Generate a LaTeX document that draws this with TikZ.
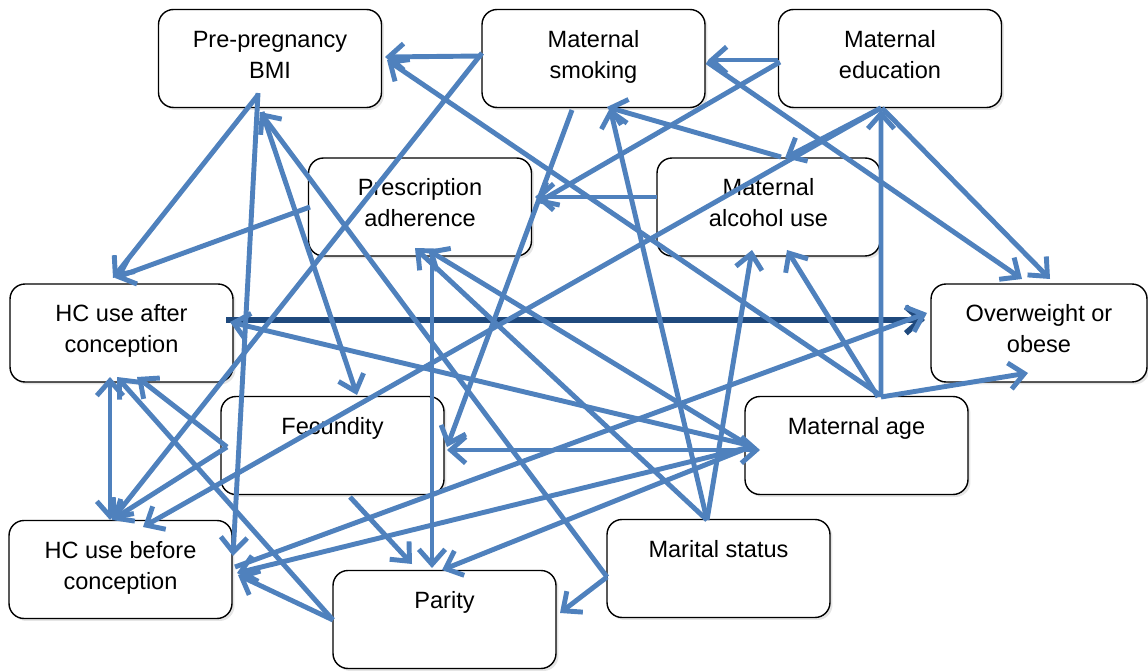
\documentclass[tikz,border=0pt]{standalone}
\usepackage{fontspec}
\setmainfont{Liberation Sans}
\usetikzlibrary{arrows.meta,calc,shadows}
\definecolor{arrowblue}{RGB}{79,129,189}
\definecolor{mainblue}{RGB}{31,73,125}
\newcommand{\boxtext}[2][4.46cm]{\parbox[c][1.96cm][t]{#1}{\centering\rule{0pt}{0.76cm}#2}}

\begin{document}
\begin{tikzpicture}[x=0.02cm, y=-0.02cm,
  box/.style={draw, rounded corners=0.3cm, fill=white, line width=0.8pt, inner sep=0pt,
    font=\fontsize{13.4}{17.5}\selectfont,
    drop shadow={shadow xshift=0.05cm, shadow yshift=-0.05cm, fill=black!20}},
  arrow/.style={draw=arrowblue, line width=2.8pt, -{Straight Barb[length=8.5pt,width=15pt]}},
  both/.style={arrow, {Straight Barb[length=8.5pt,width=15pt]}-{Straight Barb[length=8.5pt,width=15pt]}},
  main/.style={arrow, draw=mainblue, line width=3.2pt}
]
  \useasboundingbox (0,0) rectangle (1148,671);

  % Boxes
  \node[box] (bmi)   at (270,58.5)    {\boxtext{Pre-pregnancy\\BMI}};
  \node[box] (smok)  at (593.5,58.5)  {\boxtext{Maternal\\smoking}};
  \node[box] (edu)   at (890,58.5)    {\boxtext{Maternal\\education}};
  \node[box] (presc) at (420,207)     {\boxtext{Prescription\\adherence}};
  \node[box] (alc)   at (768.5,207)   {\boxtext{Maternal\\alcohol use}};
  \node[box] (hca)   at (121.5,333)   {\boxtext{HC use after\\conception}};
  \node[box] (over)  at (1039,333)    {\boxtext[4.32cm]{Overweight or\\obese}};
  \node[box] (fec)   at (332.5,445.5) {\boxtext{Fecundity}};
  \node[box] (age)   at (856.5,445.5) {\boxtext{Maternal age}};
  \node[box] (hcb)   at (120.5,569.5) {\boxtext{HC use before\\conception}};
  \node[box] (mar)   at (718.5,568.5) {\boxtext{Marital status}};
  \node[box] (par)   at (444.5,619.5) {\boxtext{Parity}};

  % Exposure to outcome
  \draw[main] ($(hca)+(104.5,-13)$) -- ($(over)+(-114,-13)$);

  % From maternal education
  \draw[arrow] ($(edu)+(-112,1.5)$) -- ($(smok)+(114.5,1.5)$);
  \draw[arrow] ($(edu)+(-110,3.5)$) -- ($(presc)+(117,-4)$);
  \draw[arrow] ($(edu)+(-8,49.5)$) -- ($(over)+(11,-54)$);
  \draw[arrow] ($(edu)+(-9,49.5)$) -- ($(alc)+(16.5,-49)$);
  \draw[arrow] ($(edu)+(-9,49.5)$) -- ($(hcb)+(22.5,-42.5)$);

  % From maternal smoking
  \draw[arrow] ($(smok)+(-111.5,-2.5)$) -- ($(bmi)+(115,-1.5)$);
  \draw[arrow] ($(smok)+(-111.5,-5.5)$) -- ($(hcb)+(-8.5,-49.5)$);
  \draw[arrow] ($(smok)+(-21.5,51.5)$) -- ($(fec)+(114.5,1.5)$);
  \draw[arrow] ($(smok)+(113.5,3.5)$) -- ($(over)+(-17,-54)$);

  % From maternal alcohol use
  \draw[arrow] ($(alc)+(-111.5,-10)$) -- ($(presc)+(115,-10)$);
  \draw[arrow] ($(alc)+(12.5,-50)$) -- ($(smok)+(13.5,48.5)$);

  % From maternal age
  \draw[arrow] ($(age)+(23.5,-50.5)$) -- ($(bmi)+(117,1.5)$);
  \draw[arrow] ($(age)+(24.5,-48.5)$) -- ($(edu)+(-9,51.5)$);
  \draw[arrow] ($(age)+(21.5,-48.5)$) -- ($(alc)+(18.5,43)$);
  \draw[arrow] ($(age)+(24.5,-48.5)$) -- ($(over)+(-11,40)$);
  \draw[both]  ($(age)+(-96.5,4.5)$) -- ($(fec)+(114.5,4.5)$);
  \draw[arrow] ($(age)+(-108.5,-0.5)$) -- ($(hca)+(108.5,-11)$);
  \draw[arrow] ($(age)+(-108.5,-0.5)$) -- ($(presc)+(8,43)$);
  \draw[arrow] ($(age)+(-106.5,1.5)$) -- ($(par)+(-2.5,-49.5)$);
  \draw[arrow] ($(age)+(-106.5,1.5)$) -- ($(hcb)+(116.5,3.5)$);

  % From marital status
  \draw[arrow] ($(mar)+(-11.5,-48.5)$) -- ($(smok)+(16.5,49.5)$);
  \draw[arrow] ($(mar)+(-11.5,-48.5)$) -- ($(alc)+(-16.5,43)$);
  \draw[arrow] ($(mar)+(-11.5,-48.5)$) -- ($(presc)+(-5,41)$);
  \draw[arrow] ($(mar)+(-111.5,8.5)$) -- ($(bmi)+(-10,53.5)$);
  \draw[arrow] ($(mar)+(-111.5,8.5)$) -- ($(par)+(115.5,-6.5)$);

  % From pre-pregnancy BMI
  \draw[arrow] ($(bmi)+(-12,36.5)$) -- ($(hca)+(-8.5,-55)$);
  \draw[arrow] ($(bmi)+(-12,34.5)$) -- ($(hcb)+(112.5,-13.5)$);
  \draw[arrow] ($(bmi)+(-8,53.5)$) -- ($(fec)+(24.5,-50.5)$);

  % From prescription adherence
  \draw[arrow] ($(presc)+(-110,0)$) -- ($(hca)+(-6.5,-55)$);
  \draw[arrow] ($(presc)+(12,43)$) -- ($(par)+(-12.5,-51.5)$);

  % From fecundity
  \draw[arrow] ($(fec)+(-105.5,1.5)$) -- ($(hca)+(15.5,44)$);
  \draw[arrow] ($(fec)+(-105.5,1.5)$) -- ($(hcb)+(-8.5,-49.5)$);
  \draw[arrow] ($(fec)+(17.5,51.5)$) -- ($(par)+(-32.5,-55.5)$);

  % From parity
  \draw[arrow] ($(par)+(-111.5,0.5)$) -- ($(hca)+(-4.5,44)$);
  \draw[arrow] ($(par)+(-111.5,0.5)$) -- ($(hcb)+(117.5,5.5)$);

  % HC use before and after conception
  \draw[both]  ($(hca)+(-11.5,44)$) -- ($(hcb)+(-10.5,-49.5)$);
  \draw[arrow] ($(hcb)+(114.5,-2.5)$) -- ($(over)+(-112,-20)$);
\end{tikzpicture}
\end{document}
